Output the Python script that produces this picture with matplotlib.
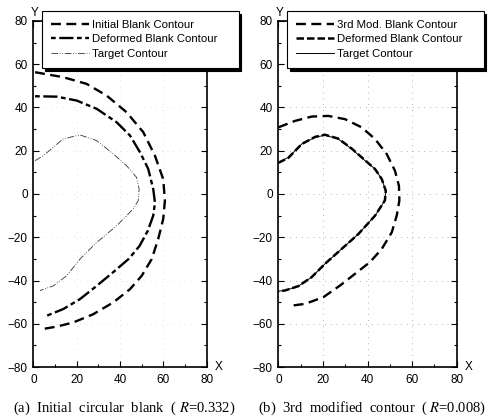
import matplotlib
matplotlib.use("Agg")
import matplotlib.pyplot as plt
from matplotlib.ticker import MultipleLocator

plt.rcParams['font.family'] = ['Liberation Sans', 'DejaVu Sans']
plt.rcParams['mathtext.fontset'] = 'stix'

# (a) left panel
init_x = [0.8, 13.8, 24.6, 33.8, 43.0, 50.7, 56.1, 59.9, 60.7, 59.9, 57.6, 54.6, 50.0, 44.6, 36.9, 27.6, 18.4, 10.8, 3.9]
init_y = [56.3, 54.0, 50.9, 45.5, 37.8, 28.6, 17.7, 6.9, -3.0, -11.6, -20.8, -30.1, -37.8, -44.0, -50.1, -55.6, -59.4, -61.3, -62.5]
defa_x = [0.8, 10.8, 20.0, 29.2, 38.4, 44.6, 49.2, 53.0, 55.3, 56.1, 55.3, 52.8, 49.0, 44.0, 37.0, 29.2, 21.5, 13.8, 5.4]
defa_y = [45.2, 45.0, 43.2, 39.4, 33.2, 27.0, 19.3, 11.6, 2.3, -4.0, -10.0, -17.0, -24.0, -30.0, -36.0, -42.5, -48.6, -53.2, -56.6]
tgta_x = [0.8, 4.6, 9.2, 13.8, 21.5, 29.2, 36.9, 43.0, 47.6, 48.8, 48.4, 46.1, 38.4, 29.2, 21.5, 15.4, 9.2, 3.9, 3.1]
tgta_y = [15.4, 17.7, 21.6, 25.5, 27.3, 24.7, 18.5, 13.1, 7.7, 2.3, -3.0, -6.9, -14.7, -22.4, -30.1, -37.8, -42.5, -44.3, -44.8]

# (b) right panel
mod3_x = [0.0, 7.5, 15.0, 22.4, 29.9, 37.4, 43.4, 48.6, 52.3, 54.1, 54.3, 53.1, 50.9, 46.4, 41.1, 34.4, 27.7, 20.2, 12.0, 4.5]
mod3_y = [30.8, 33.8, 35.8, 36.1, 34.6, 30.8, 25.4, 18.5, 10.8, 3.8, -3.0, -10.0, -17.7, -25.4, -31.5, -36.9, -42.3, -47.7, -50.8, -51.8]
defb_x = [0.0, 4.5, 10.5, 16.5, 20.9, 26.9, 32.9, 38.9, 43.4, 46.4, 48.2, 47.8, 43.4, 35.9, 28.4, 20.9, 15.0, 9.0, 3.0, 0.0]
defb_y = [14.4, 16.7, 23.1, 26.4, 27.4, 25.6, 21.0, 15.6, 11.5, 6.9, 1.5, -3.0, -10.0, -18.5, -25.4, -32.3, -38.4, -42.6, -44.6, -45.0]
tgtb_x = [0.0, 4.5, 10.5, 16.5, 20.9, 26.9, 32.9, 38.9, 43.4, 46.4, 48.2, 47.8, 43.4, 35.9, 28.4, 20.9, 15.0, 9.0, 3.0, 0.0]
tgtb_y = [14.6, 16.9, 23.1, 26.2, 27.2, 25.4, 20.8, 15.4, 11.5, 6.9, 1.5, -3.0, -10.0, -18.5, -25.4, -32.3, -38.4, -42.6, -44.6, -44.9]

labels_a = ["Initial Blank Contour", "Deformed Blank Contour    ", "Target Contour"]
labels_b = ["3rd Mod. Blank Contour", "Deformed Blank Contour    ", "Target Contour"]
captions = ["(a)  Initial  circular  blank  ( $\\mathit{R}$=0.332)",
            "(b)  3rd  modified  contour  ( $\\mathit{R}$=0.008)"]

fig = plt.figure(figsize=(4.9, 4.19), dpi=100)
ax1 = fig.add_axes([0.068, 0.124, 0.354, 0.826])
ax2 = fig.add_axes([0.568, 0.124, 0.364, 0.826])


def style_axes(ax, grid_color):
    ax.set_xlim(0, 80)
    ax.set_ylim(-80, 80)
    ax.xaxis.set_major_locator(MultipleLocator(20))
    ax.yaxis.set_major_locator(MultipleLocator(20))
    ax.xaxis.set_minor_locator(MultipleLocator(10))
    ax.yaxis.set_minor_locator(MultipleLocator(10))
    ax.tick_params(which='both', direction='in', top=True, right=True,
                   labelsize=8.5, width=0.8)
    ax.tick_params(axis='x', pad=5)
    ax.tick_params(axis='y', pad=4)
    ax.tick_params(which='major', length=4)
    ax.tick_params(which='minor', length=2.5)
    for s in ax.spines.values():
        s.set_linewidth(1.2)
    ax.grid(True, which='major', color=grid_color, linestyle=(0, (1, 6)), linewidth=0.6)
    ax.text(0.01, 1.005, "Y", transform=ax.transAxes, ha='center', va='bottom', fontsize=8.5)
    ax.text(1.045, 0.0, "X", transform=ax.transAxes, ha='left', va='center', fontsize=8.5)


style_axes(ax1, '#d8d8d8')
style_axes(ax2, '#999999')

l1, = ax1.plot(init_x, init_y, color='k', lw=1.7, dashes=(4.2, 2.3), label=labels_a[0])
l2, = ax1.plot(defa_x, defa_y, color='k', lw=1.7, dashes=(2, 1.5, 6, 1.5), label=labels_a[1])
l3, = ax1.plot(tgta_x, tgta_y, color='#333333', lw=0.6, dashes=(8, 2, 1, 2, 1, 2), label=labels_a[2])

r1, = ax2.plot(mod3_x, mod3_y, color='k', lw=1.7, dashes=(4.2, 2.3), label=labels_b[0])
r3, = ax2.plot(tgtb_x, tgtb_y, color='k', lw=0.7, label=labels_b[2])
r2, = ax2.plot(defb_x, defb_y, color='k', lw=1.8, dashes=(3, 1.2), label=labels_b[1])

for handles, x0 in (([l1, l2, l3], 0.0857), ([r1, r2, r3], 0.586)):
    leg = fig.legend(handles=handles, loc='upper left', bbox_to_anchor=(x0, 0.974),
                     borderaxespad=0, fontsize=8.2, frameon=True, fancybox=False,
                     handlelength=3.3, labelspacing=0.38, borderpad=0.8,
                     handletextpad=0.25, shadow={'color': 'k', 'alpha': 1})
    leg.get_frame().set_edgecolor('k')
    leg.get_frame().set_linewidth(0.8)

fig.text(0.253, 0.026, captions[0], ha='center', va='center', fontsize=10.5,
         family=['Liberation Serif', 'DejaVu Serif'])
fig.text(0.76, 0.026, captions[1], ha='center', va='center', fontsize=10.5,
         family=['Liberation Serif', 'DejaVu Serif'])

fig.savefig("out.png", dpi=100)
